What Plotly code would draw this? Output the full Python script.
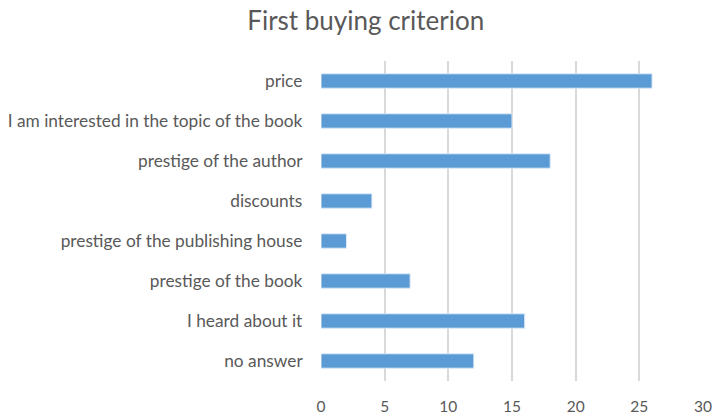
import plotly.graph_objects as go

categories = ["price", "I am interested in the topic of the book", "prestige of the author",
              "discounts", "prestige of the publishing house", "prestige of the book",
              "I heard about it", "no answer"]
values = [26, 15, 18, 4, 2, 7, 16, 12]
x_ticks = [0, 5, 10, 15, 20, 25, 30]

fig = go.Figure(go.Bar(
    y=categories, x=values, orientation="h",
    marker=dict(color="#5B9BD5", line=dict(color="#DEEBF7", width=1)),
    width=0.36,
))
font = "Lato, Open Sans, sans-serif"
fig.update_layout(
    width=713, height=413,
    margin=dict(l=321, r=10, t=61, b=32, autoexpand=False),
    paper_bgcolor="white", plot_bgcolor="white",
    title=dict(text="First buying criterion", x=0.513, xanchor="center", y=0.95, yanchor="middle",
               font=dict(family=font, size=26, color="#595959")),
    font=dict(family=font, size=17, color="#595959"),
    showlegend=False,
    xaxis=dict(range=[0, 30], tickvals=x_ticks, showgrid=True, gridcolor="#D9D9D9", gridwidth=1.5,
               zeroline=False, showline=False, ticks="", automargin=False, ticklabelstandoff=14,
               tickfont=dict(size=15.5, color="#595959")),
    yaxis=dict(autorange="reversed", showgrid=False, showline=False, ticks="", ticklen=0,
               automargin=False, ticksuffix="    ", tickfont=dict(size=17.3, color="#595959")),
    bargap=0.64,
)
fig.write_html("out.html", config={"displayModeBar": False},
               post_script="document.body.style.margin='0';document.body.style.overflow='hidden';")
